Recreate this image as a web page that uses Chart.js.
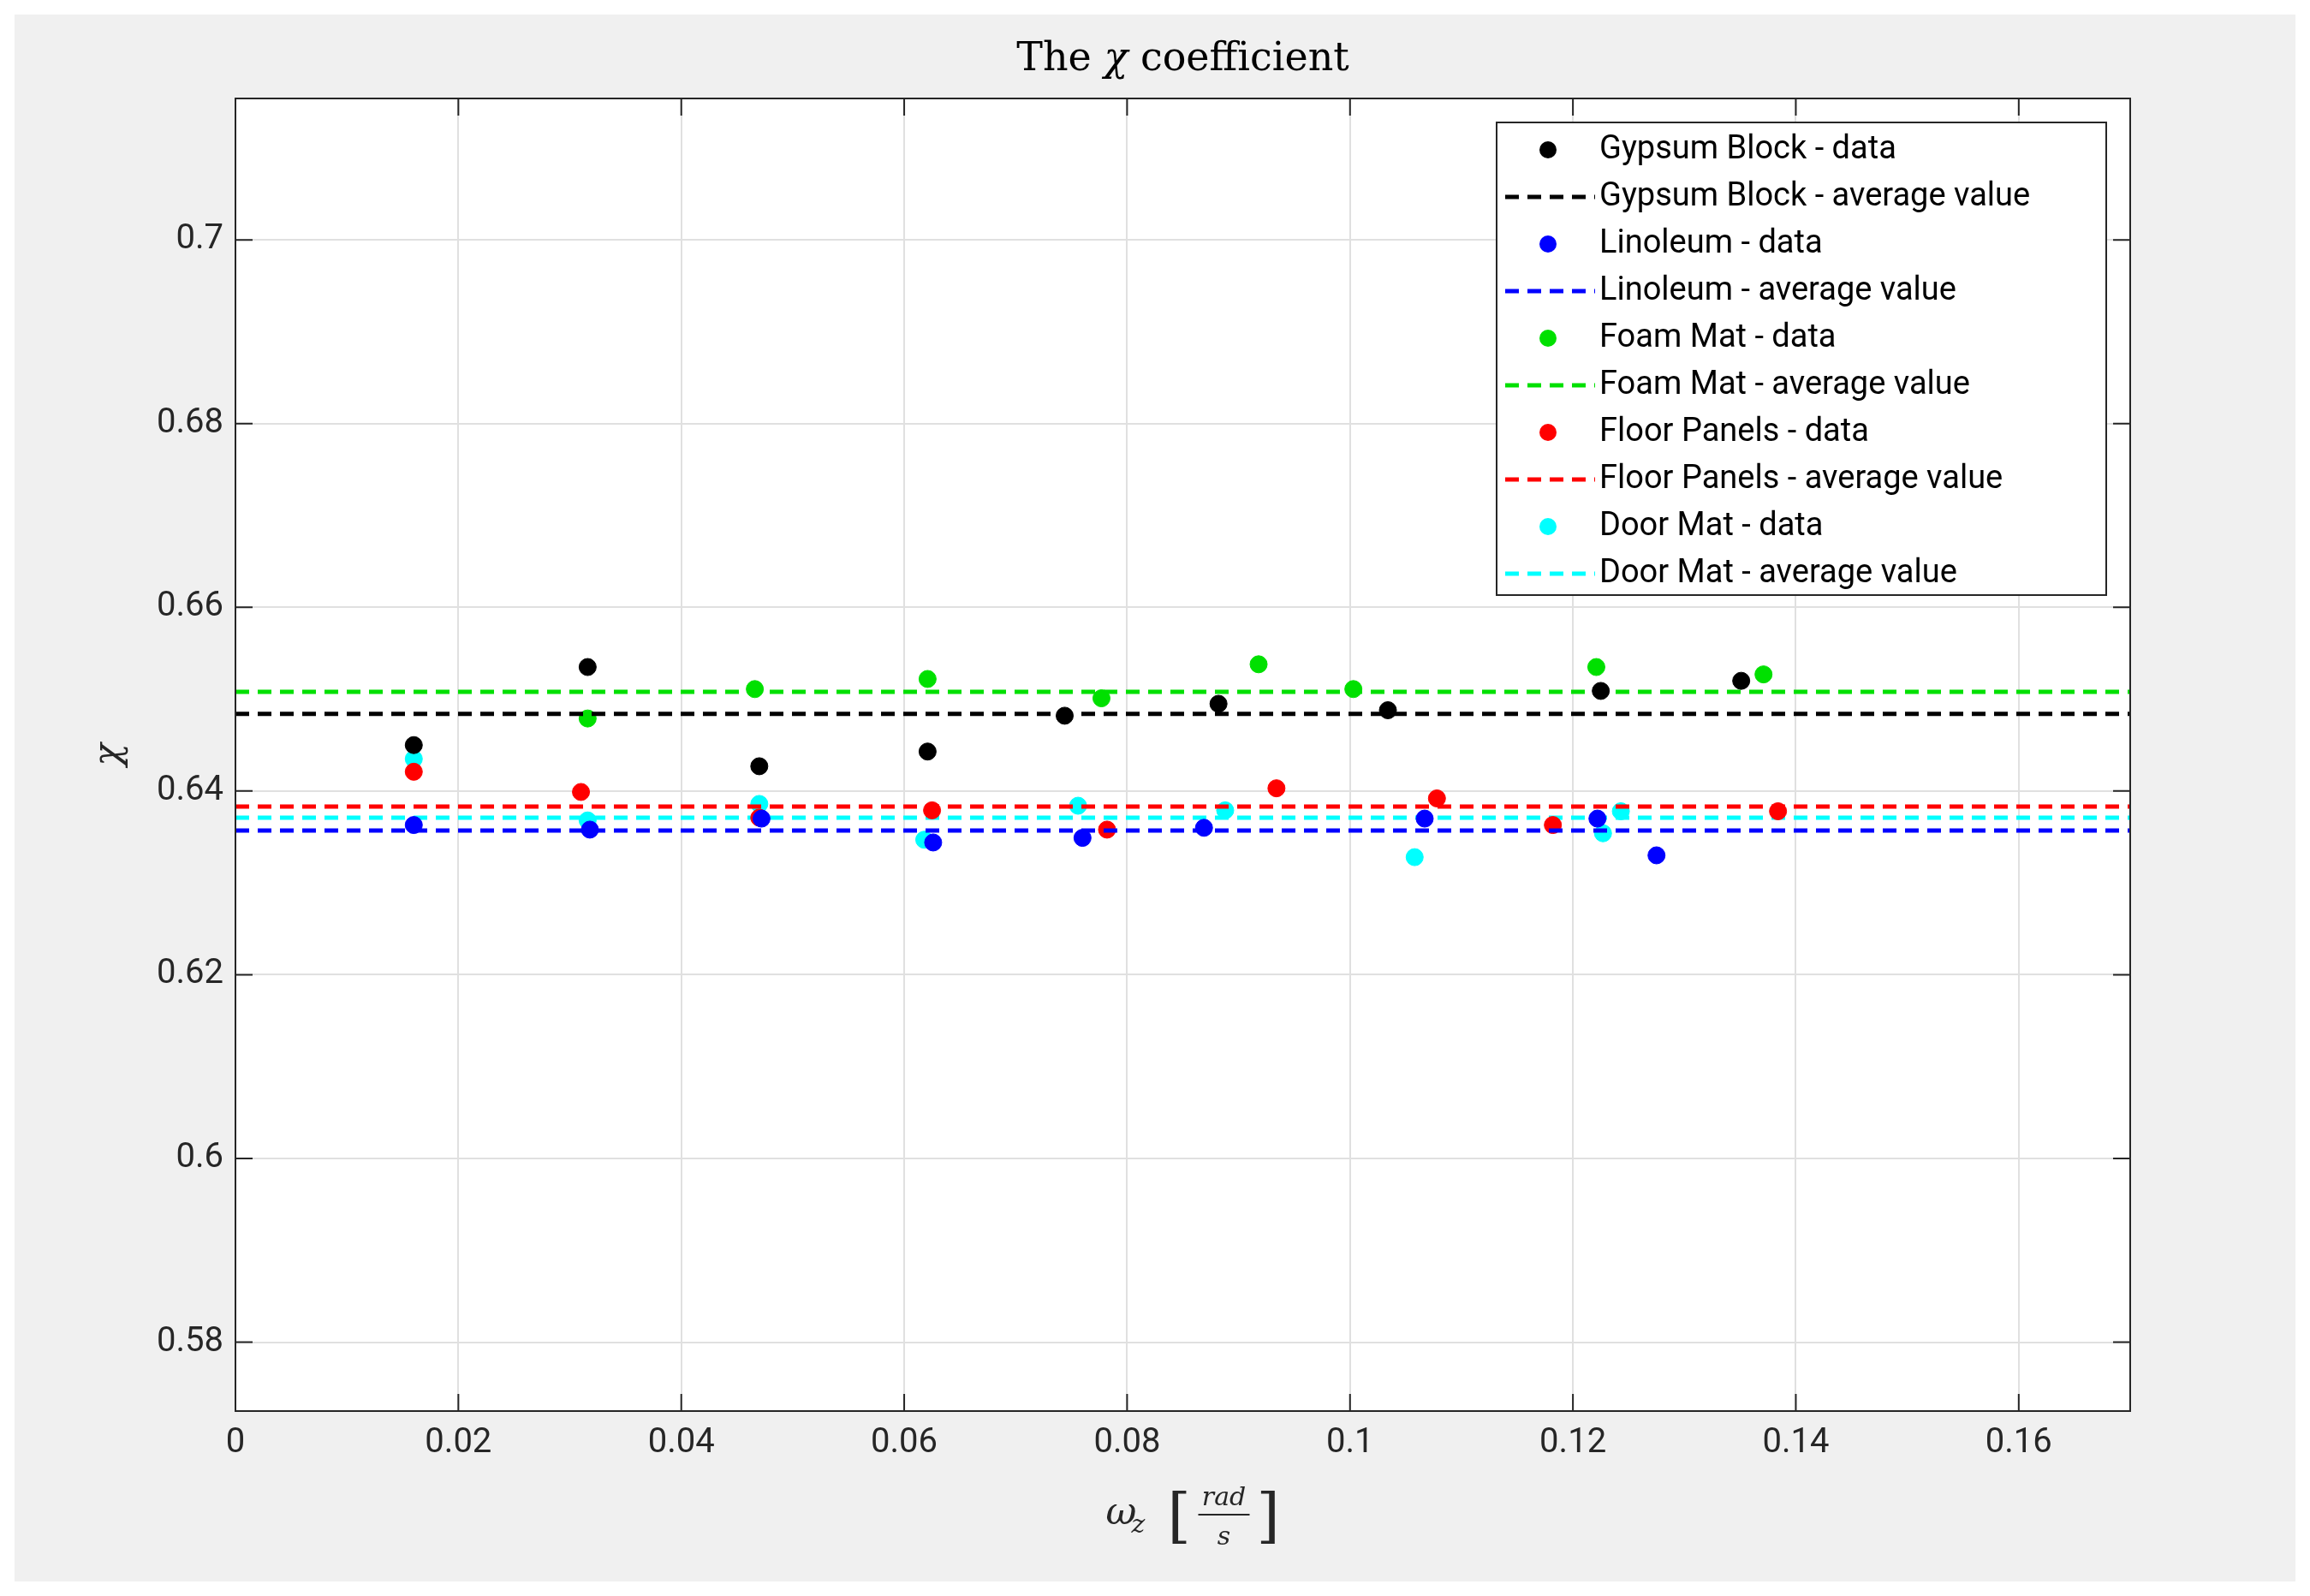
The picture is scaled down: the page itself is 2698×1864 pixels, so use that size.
<!DOCTYPE html>
<html>
<head>
<meta charset="utf-8">
<script src="https://cdn.jsdelivr.net/npm/chart.js@4"></script>
<style>
  html, body { margin: 0; padding: 0; background: #fff; }
  #wrap { width: 2698px; height: 1864px; }
</style>
</head>
<body>
<div id="wrap"><canvas id="c" width="2698" height="1864"></canvas></div>
<script>
const materials = ['Gypsum Block', 'Linoleum', 'Foam Mat', 'Floor Panels', 'Door Mat'];
const colors = ['#000000', '#0000ff', '#00e000', '#ff0000', '#00ffff'];

const gypsumX = [0.016, 0.0316, 0.047, 0.0621, 0.0744, 0.0882, 0.1034, 0.1225, 0.1351];
const gypsumY = [0.6450, 0.6535, 0.6427, 0.6443, 0.6482, 0.6495, 0.6488, 0.6509, 0.6520];
const linoleumX = [0.016, 0.0318, 0.0472, 0.0626, 0.076, 0.0869, 0.1067, 0.1222, 0.1275];
const linoleumY = [0.6363, 0.6358, 0.6370, 0.6344, 0.6349, 0.6360, 0.6370, 0.6370, 0.6330];
const foamX = [0.0316, 0.0466, 0.0621, 0.0777, 0.0918, 0.1003, 0.1221, 0.1371];
const foamY = [0.6479, 0.6511, 0.6522, 0.6501, 0.6538, 0.6511, 0.6535, 0.6527];
const panelsX = [0.016, 0.031, 0.047, 0.0625, 0.0782, 0.0934, 0.1078, 0.1182, 0.1384];
const panelsY = [0.6421, 0.6399, 0.6371, 0.6379, 0.6358, 0.6403, 0.6392, 0.6363, 0.6378];
const doorX = [0.016, 0.0316, 0.047, 0.0618, 0.0756, 0.0888, 0.1058, 0.1227, 0.1243];
const doorY = [0.6435, 0.6368, 0.6386, 0.6347, 0.6384, 0.6379, 0.6328, 0.6354, 0.6378];
const averages = [0.6484, 0.6357, 0.6508, 0.6383, 0.6371];

const xTicks = [0, 0.02, 0.04, 0.06, 0.08, 0.1, 0.12, 0.14, 0.16];
const yTicks = [0.58, 0.6, 0.62, 0.64, 0.66, 0.68, 0.7];

const seriesX = [gypsumX, linoleumX, foamX, panelsX, doorX];
const seriesY = [gypsumY, linoleumY, foamY, panelsY, doorY];

const datasets = [];
materials.forEach((m, i) => {
    datasets.push({
        type: 'scatter',
        label: m + ' - data',
        data: seriesX[i].map((x, k) => ({ x: x, y: seriesY[i][k] })),
        backgroundColor: colors[i],
        borderColor: colors[i],
        pointRadius: 10,
        pointHoverRadius: 10
    });
    datasets.push({
        type: 'line',
        label: m + ' - average value',
        data: [{ x: 0, y: averages[i] }, { x: 0.17, y: averages[i] }],
        borderColor: colors[i],
        borderWidth: 5,
        borderDash: [16, 10],
        pointRadius: 0,
        fill: false
    });
});

const fmt = v => String(parseFloat(v.toFixed(4)));

// frame, title, axis labels, legend
const decor = {
    id: 'decor',
    beforeDraw(chart) {
        const ctx = chart.ctx;
        ctx.save();
        ctx.fillStyle = '#ffffff';
        ctx.fillRect(0, 0, chart.width, chart.height);
        ctx.fillStyle = '#f0f0f0';
        ctx.fillRect(17, 17, chart.width - 34, chart.height - 34);
        const a = chart.chartArea;
        ctx.fillStyle = '#ffffff';
        ctx.fillRect(a.left, a.top, a.right - a.left, a.bottom - a.top);
        ctx.restore();
    },
    afterDraw(chart) {
        const ctx = chart.ctx;
        const a = chart.chartArea;
        ctx.save();
        ctx.strokeStyle = '#262626';
        ctx.lineWidth = 2;
        ctx.strokeRect(a.left, a.top, a.right - a.left, a.bottom - a.top);
        // inner ticks on all sides
        const xs = chart.scales.x, ys = chart.scales.y;
        ctx.beginPath();
        xTicks.forEach(t => {
            const px = xs.getPixelForValue(t);
            ctx.moveTo(px, a.bottom); ctx.lineTo(px, a.bottom - 20);
            ctx.moveTo(px, a.top); ctx.lineTo(px, a.top + 20);
        });
        yTicks.forEach(t => {
            const py = ys.getPixelForValue(t);
            ctx.moveTo(a.left, py); ctx.lineTo(a.left + 20, py);
            ctx.moveTo(a.right, py); ctx.lineTo(a.right - 20, py);
        });
        ctx.stroke();

        // title
        ctx.fillStyle = '#000';
        ctx.textAlign = 'center';
        ctx.textBaseline = 'alphabetic';
        ctx.font = '46px "DejaVu Serif", serif';
        const t1 = 'The ', t2 = 'χ', t3 = ' coefficient';
        const w1 = ctx.measureText(t1).width, w3 = ctx.measureText(t3).width;
        ctx.font = 'italic 46px "DejaVu Serif", serif';
        const w2 = ctx.measureText(t2).width;
        let sx = (a.left + a.right) / 2 - (w1 + w2 + w3) / 2;
        ctx.textAlign = 'left';
        ctx.font = '46px "DejaVu Serif", serif';
        ctx.fillText(t1, sx, 82);
        ctx.font = 'italic 46px "DejaVu Serif", serif';
        ctx.fillText(t2, sx + w1, 82);
        ctx.font = '46px "DejaVu Serif", serif';
        ctx.fillText(t3, sx + w1 + w2, 82);

        // y label
        ctx.save();
        ctx.translate(140, (a.top + a.bottom) / 2);
        ctx.rotate(-Math.PI / 2);
        ctx.textAlign = 'center';
        ctx.font = 'italic 44px "DejaVu Serif", serif';
        ctx.fillStyle = '#262626';
        ctx.fillText('χ', 0, 0);
        ctx.restore();

        // x label: ω_z [rad / s]
        ctx.fillStyle = '#262626';
        const cx = (a.left + a.right) / 2 - 90;
        const base = 1780;
        ctx.font = 'italic 44px "DejaVu Serif", serif';
        ctx.fillText('ω', cx, base);
        ctx.font = 'italic 30px "DejaVu Serif", serif';
        ctx.fillText('z', cx + 30, base + 10);
        ctx.font = '70px "DejaVu Serif", serif';
        ctx.fillText('[', cx + 72, base + 14);
        ctx.font = 'italic 30px "DejaVu Serif", serif';
        ctx.textAlign = 'center';
        ctx.fillText('rad', cx + 138, base - 22);
        ctx.fillText('s', cx + 138, base + 24);
        ctx.fillRect(cx + 108, base - 12, 60, 2);
        ctx.textAlign = 'left';
        ctx.font = '70px "DejaVu Serif", serif';
        ctx.fillText(']', cx + 176, base + 14);

        // legend
        const lx = 1748, ly = 143, lw = 712, lh = 552;
        ctx.fillStyle = '#fff';
        ctx.fillRect(lx, ly, lw, lh);
        ctx.strokeStyle = '#262626';
        ctx.lineWidth = 2;
        ctx.strokeRect(lx, ly, lw, lh);
        ctx.font = '38px Roboto, "Liberation Sans", sans-serif';
        ctx.textBaseline = 'middle';
        chart.data.datasets.forEach((ds, i) => {
            const y = ly + 32 + i * 55;
            ctx.fillStyle = ds.borderColor;
            ctx.strokeStyle = ds.borderColor;
            if (ds.type === 'scatter') {
                ctx.beginPath();
                ctx.arc(lx + 60, y, 10, 0, Math.PI * 2);
                ctx.fill();
            } else {
                ctx.lineWidth = 5;
                ctx.setLineDash([16, 10]);
                ctx.beginPath();
                ctx.moveTo(lx + 10, y); ctx.lineTo(lx + 115, y);
                ctx.stroke();
                ctx.setLineDash([]);
            }
            ctx.fillStyle = '#000';
            ctx.fillText(ds.label, lx + 120, y);
        });
        ctx.restore();
    }
};

new Chart(document.getElementById('c'), {
    data: { datasets: datasets },
    options: {
        responsive: false,
        animation: false,
        devicePixelRatio: 1,
        layout: { padding: { top: 115, right: 210, left: 0, bottom: 0 } },
        plugins: { legend: { display: false }, tooltip: { enabled: false } },
        scales: {
            x: {
                type: 'linear', min: 0, max: 0.17,
                afterBuildTicks: s => { s.ticks = xTicks.map(v => ({ value: v })); },
                afterFit: s => { s.height = 216; },
                ticks: { callback: v => fmt(v), color: '#262626', padding: 14,
                         font: { size: 40, family: 'Roboto, "Liberation Sans", sans-serif' } },
                grid: { color: '#e0e0e0', lineWidth: 2, drawTicks: false },
                border: { display: false }
            },
            y: {
                type: 'linear', min: 0.5725, max: 0.7154,
                afterBuildTicks: s => { s.ticks = yTicks.map(v => ({ value: v })); },
                afterFit: s => { s.width = 275; },
                ticks: { callback: v => fmt(v), color: '#262626', padding: 14,
                         font: { size: 40, family: 'Roboto, "Liberation Sans", sans-serif' } },
                grid: { color: '#e0e0e0', lineWidth: 2, drawTicks: false },
                border: { display: false }
            }
        }
    },
    plugins: [decor]
});
</script>
</body>
</html>
